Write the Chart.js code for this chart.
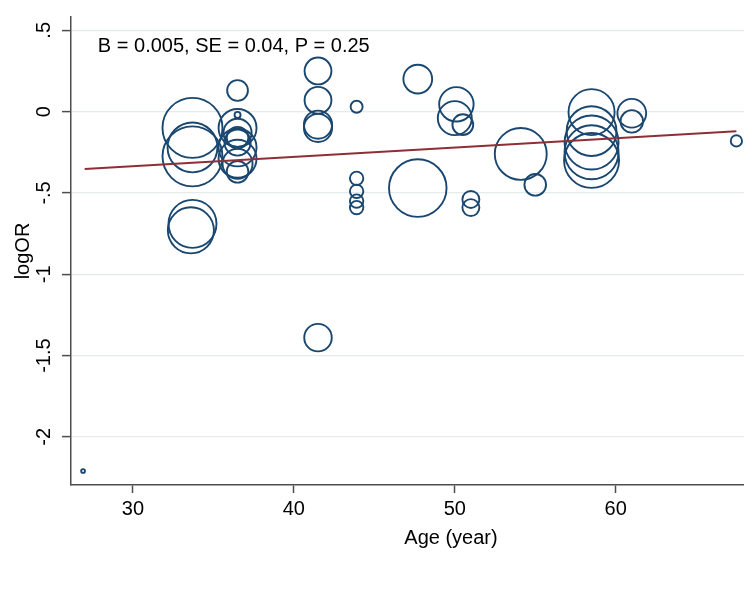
<!DOCTYPE html>
<html>
<head>
<meta charset="utf-8">
<title>logOR by age</title>
<script src="https://cdn.jsdelivr.net/npm/chart.js@4.4.1/dist/chart.umd.min.js"></script>
<style>
    html, body { margin: 0; padding: 0; background: #fff; overflow: hidden; }
    #wrap { width: 744px; height: 590px; overflow: hidden; }
</style>
</head>
<body>
<div id="wrap"><canvas id="metaChart" width="860" height="590"></canvas></div>
<script>
// Study data
const ages = [
    33.7, 33.7, 33.7, 33.7, 33.6,
    36.5, 36.5, 36.5, 36.5, 36.5, 36.5, 36.5, 36.5, 36.5, 36.5,
    41.5, 41.5, 41.5, 41.5, 41.5,
    43.9, 43.9, 43.9, 43.9, 43.9,
    47.7, 47.7,
    50.1, 50.0, 50.5,
    51.0, 51.0,
    54.1, 55.0,
    58.5, 58.5, 58.5, 58.5, 58.5,
    61.0, 61.0,
    67.5, 26.9
];
const logOR = [
    -0.10, -0.22, -0.275, -0.69, -0.73,
    0.13, -0.02, -0.10, -0.13, -0.16, -0.19, -0.22, -0.29, -0.32, -0.37,
    0.25, 0.07, -0.08, -0.10, -1.39,
    0.03, -0.41, -0.49, -0.55, -0.59,
    0.20, -0.47,
    0.045, -0.04, -0.08,
    -0.54, -0.59,
    -0.26, -0.45,
    -0.003, -0.12, -0.19, -0.25, -0.30,
    -0.01, -0.06,
    -0.18, -2.21
];
// Study weights (bubble area)
const weights = [
    100, 69, 100, 64, 59,
    12, 1, 40, 22, 13, 19, 40, 40, 25, 13,
    20, 20, 22, 22, 21,
    4, 5, 5, 5, 5,
    23, 92,
    33, 32, 12,
    8, 8,
    75, 13,
    59, 69, 81, 81, 84,
    23, 14,
    3.5, 0.4
];

// Fitted meta-regression line
const fitX = [27, 67.5];
const fitY = [-0.352, -0.121];
const statsText = 'B = 0.005, SE = 0.04, P = 0.25';

// Axis ticks
const xTickValues = [30, 40, 50, 60, 70];
const yTickValues = [-2, -1.5, -1, -0.5, 0, 0.5];
const yTickLabels = ['-2', '-1.5', '-1', '-.5', '0', '.5'];

const FONT = 'Liberation Sans, Arial, sans-serif';
const NAVY = '#1a476f';
const MAROON = '#8e2f35';
const AXIS = '#4d4d4d';

// Draws the regression summary text inside the plot
const statsLabel = {
    id: 'statsLabel',
    afterDraw(chart) {
        const ctx = chart.ctx;
        const x = chart.scales.x.getPixelForValue(27.82);
        const y = chart.scales.y.getPixelForValue(0.40);
        ctx.save();
        ctx.font = '20px ' + FONT;
        ctx.fillStyle = '#000';
        ctx.textAlign = 'left';
        ctx.textBaseline = 'middle';
        ctx.fillText(statsText, x, y);
        ctx.restore();
    }
};

document.addEventListener('DOMContentLoaded', function() {
    const bubbles = ages.map((a, i) => ({ x: a, y: logOR[i], r: Math.sqrt(weights[i]) * 3 }));
    const fitLine = fitX.map((x, i) => ({ x: x, y: fitY[i] }));

    const ctx = document.getElementById('metaChart').getContext('2d');
    new Chart(ctx, {
        type: 'bubble',
        data: {
            datasets: [{
                type: 'line',
                label: 'Fitted values',
                data: fitLine,
                borderColor: MAROON,
                borderWidth: 2,
                pointRadius: 0,
                fill: false,
                tension: 0,
                order: 0
            }, {
                label: 'logOR',
                data: bubbles,
                borderColor: NAVY,
                backgroundColor: 'rgba(0,0,0,0)',
                borderWidth: 1.9,
                hoverRadius: 0,
                order: 1
            }]
        },
        options: {
            responsive: false,
            animation: false,
            devicePixelRatio: 1,
            layout: {
                autoPadding: false,
                padding: { top: 17, left: 0, right: 29, bottom: 0 }
            },
            plugins: {
                legend: { display: false },
                tooltip: { enabled: false }
            },
            scales: {
                x: {
                    type: 'linear',
                    position: 'bottom',
                    min: 26.15,
                    max: 73.38,
                    afterBuildTicks: s => { s.ticks = xTickValues.map(v => ({ value: v })); },
                    afterFit: s => {
                        s.height = 105;
                        s.paddingLeft = 0;
                        s.paddingRight = 0;
                    },
                    grid: {
                        drawOnChartArea: false,
                        drawTicks: true,
                        tickLength: 8,
                        tickColor: AXIS,
                        tickWidth: 1.5
                    },
                    border: { color: AXIS, width: 1.5 },
                    ticks: {
                        autoSkip: false,
                        maxRotation: 0,
                        padding: 4,
                        color: '#000',
                        font: { family: FONT, size: 20 }
                    },
                    title: {
                        display: true,
                        text: 'Age (year)',
                        color: '#000',
                        font: { family: FONT, size: 20 },
                        padding: { top: 0, bottom: 40 }
                    }
                },
                y: {
                    type: 'linear',
                    position: 'left',
                    min: -2.296,
                    max: 0.582,
                    afterBuildTicks: s => { s.ticks = yTickValues.map(v => ({ value: v })); },
                    afterFit: s => {
                        s.width = 71;
                        s.paddingTop = 0;
                        s.paddingBottom = 0;
                    },
                    grid: {
                        color: '#e3ebec',
                        lineWidth: 1.2,
                        tickLength: 9,
                        tickColor: AXIS,
                        tickWidth: 1.5
                    },
                    border: { color: AXIS, width: 1.5 },
                    ticks: {
                        autoSkip: false,
                        minRotation: 90,
                        maxRotation: 90,
                        crossAlign: 'center',
                        padding: 0,
                        color: '#000',
                        font: { family: FONT, size: 20 },
                        callback: function(value, index) {
                            return yTickLabels[index];
                        }
                    },
                    title: {
                        display: true,
                        text: 'logOR',
                        color: '#000',
                        font: { family: FONT, size: 20 },
                        padding: { top: 11, bottom: 0 }
                    }
                }
            }
        },
        plugins: [statsLabel]
    });
});
</script>
</body>
</html>
